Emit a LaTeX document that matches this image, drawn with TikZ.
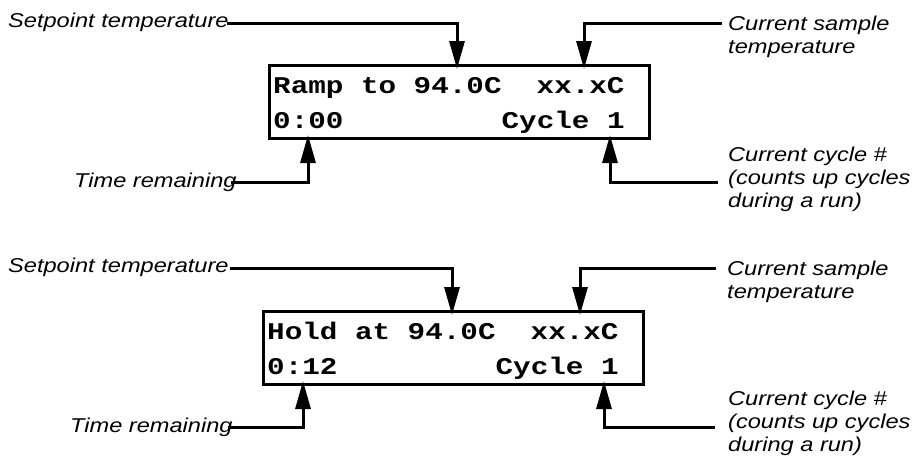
\documentclass[tikz,border=0pt]{standalone}
\usepackage{fontspec}
\setmainfont{Liberation Sans}[FakeStretch=1.18]
\newfontfamily\lcdfont{Liberation Mono}[FakeStretch=1.22]
\usetikzlibrary{arrows.meta}
\begin{document}
\begin{tikzpicture}[x=1pt,y=-1pt,
  lbl/.style={font=\fontsize{20}{23}\selectfont\itshape, inner sep=0pt, align=left, anchor=base west},
  lcd/.style={font=\fontsize{24}{35}\selectfont\lcdfont\bfseries, inner sep=0pt, anchor=base west},
  panel/.style={draw, line width=3pt, inner sep=0pt, anchor=north west},
  lead/.style={line width=3pt, -{Triangle[length=28pt,width=15pt]}}]
\useasboundingbox (0,0) rectangle (919,456);

% ---------- top panel ----------
\node[panel, minimum width=380pt, minimum height=73pt] (box1) at (268,64) {};
\node[lcd] (r1a) at (273,93) {Ramp to 94.0C~~xx.xC};
\node[lcd] (r1b) at (273,128) {0:00~~~~~~~~~Cycle 1};

% multi-line labels: base anchor = baseline of the last line
\node[lbl] (sp1) at (8,27) {Setpoint temperature};
\node[lbl] (cs1) at (728,53) {Current sample\\temperature};
\node[lbl] (tr1) at (74,187) {Time remaining};
\node[lbl] (cc1) at (728,207) {Current cycle \#\\(counts up cycles\\during a run)};

\coordinate (sp1s) at (227,23);
\coordinate (cs1s) at (722,23);
\coordinate (tr1s) at (231,182);
\coordinate (cc1s) at (718,182);
\coordinate (sp1t) at (457,69);
\coordinate (cs1t) at (584,69);
\coordinate (tr1t) at (308,135);
\coordinate (cc1t) at (610,135);

\draw[lead] (sp1s) -| (sp1t);
\draw[lead] (cs1s) -| (cs1t);
\draw[lead] (tr1s) -| (tr1t);
\draw[lead] (cc1s) -| (cc1t);

% ---------- bottom panel ----------
\node[panel, minimum width=380pt, minimum height=73pt] (box2) at (262,310) {};
\node[lcd] (r2a) at (267,339) {Hold at 94.0C~~xx.xC};
\node[lcd] (r2b) at (267,374) {0:12~~~~~~~~~Cycle 1};

\node[lbl] (sp2) at (8,272) {Setpoint temperature};
\node[lbl] (cs2) at (727,298) {Current sample\\temperature};
\node[lbl] (tr2) at (70,432) {Time remaining};
\node[lbl] (cc2) at (728,451) {Current cycle \#\\(counts up cycles\\during a run)};

\coordinate (sp2s) at (230,268);
\coordinate (cs2s) at (716,268);
\coordinate (tr2s) at (228,427);
\coordinate (cc2s) at (715,427);
\coordinate (sp2t) at (452,315);
\coordinate (cs2t) at (580,315);
\coordinate (tr2t) at (303,381);
\coordinate (cc2t) at (604,381);

\draw[lead] (sp2s) -| (sp2t);
\draw[lead] (cs2s) -| (cs2t);
\draw[lead] (tr2s) -| (tr2t);
\draw[lead] (cc2s) -| (cc2t);
\end{tikzpicture}
\end{document}
